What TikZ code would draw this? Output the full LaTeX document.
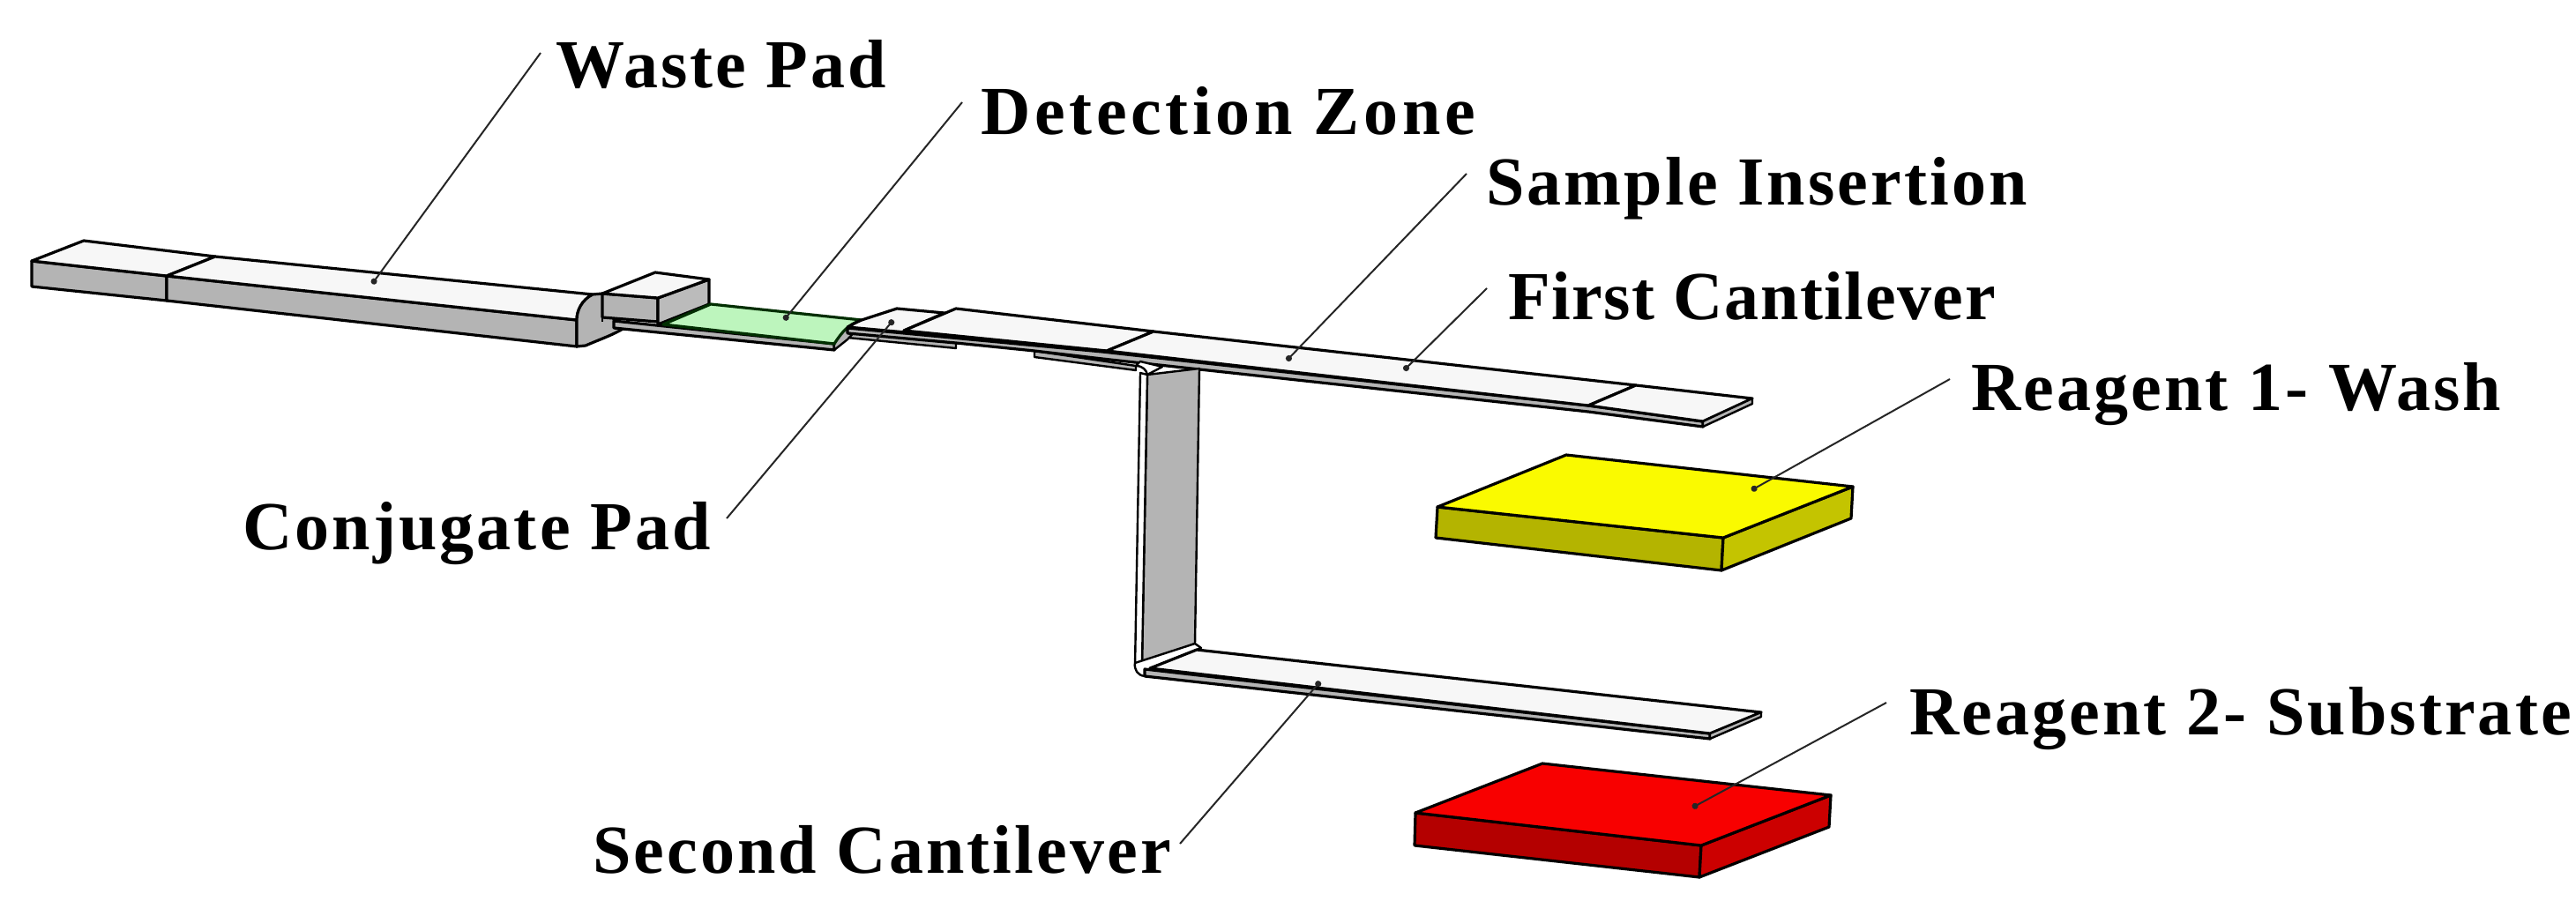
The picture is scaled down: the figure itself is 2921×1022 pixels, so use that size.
\documentclass[tikz,border=0pt]{standalone}
\usepackage{fontspec}
\setmainfont{Liberation Serif}
\usetikzlibrary{arrows.meta}
\definecolor{topw}{HTML}{F7F7F7}
\definecolor{sideg}{HTML}{B4B4B4}
\definecolor{greenp}{HTML}{BDF5BD}
\definecolor{yel}{HTML}{FAFA00}
\definecolor{yeld}{HTML}{B4B400}
\definecolor{yels}{HTML}{C4C400}
\definecolor{redt}{HTML}{F80000}
\definecolor{redd}{HTML}{B40000}
\definecolor{reds}{HTML}{CC0000}
\newfontfamily\labfont[LetterSpace=4]{Liberation Serif}
\newfontfamily\labwide[LetterSpace=6]{Liberation Serif}
\newfontfamily\labtight[LetterSpace=2]{Liberation Serif}
\tikzset{
 x=1pt,y=-1pt,
 solid3d/.style={draw=black,line width=3.2pt,line join=round},
 thin3d/.style={draw=black,line width=2.4pt,line join=round},
 leader/.style={draw=black!85,line width=2pt,-{Circle[length=7pt,width=7pt]}},
 lab/.style={anchor=base west,inner sep=0pt,font=\fontsize{78}{84}\selectfont\bfseries\labfont,text=black},
}
\begin{document}
\begin{tikzpicture}
\useasboundingbox (0,0) rectangle (2921,1022);
\fill[white] (0,0) rectangle (2921,1022);
% waste pad blocks
\path[solid3d,fill=sideg] (36,296) -- (189,313) -- (189,341) -- (36,325) -- cycle;
\path[solid3d,fill=sideg] (189,313) -- (654,363) -- (654,393) -- (189,341) -- cycle;
\path[solid3d,fill=topw] (95,273) -- (244,291) -- (189,313) -- (36,296) -- cycle;
\path[solid3d,fill=topw] (244,291) -- (672,334) .. controls (660,340) and (654,352) .. (654,363) -- (189,313) -- cycle;
\path[solid3d,fill=sideg] (672,334) .. controls (660,340) and (654,352) .. (654,363) -- (654,393) -- (664,392) .. controls (680,385) and (695,380) .. (708,372) -- (696,362) -- (683,333) -- cycle;
\draw[thin3d] (683,333) -- (683,365);
% middle block
\path[solid3d,fill=sideg] (683,333) -- (746,338) -- (746,365) -- (683,360) -- cycle;
\path[solid3d,fill=sideg!90] (746,338) -- (804,317) -- (804,345) -- (746,368) -- cycle;
\path[solid3d,fill=topw] (743,309) -- (804,317) -- (746,338) -- (683,333) -- cycle;
% strip under green
\path[solid3d,fill=sideg] (696,364) -- (946,390) -- (946,397) -- (696,372) -- cycle;
% lower tabs
\path[thin3d,fill=sideg] (961,377) -- (1084,389) -- (1084,395) -- (961,383) -- cycle;
\path[thin3d,fill=sideg] (946,390) -- (956,375) -- (975,370) -- (961,385) -- (946,397) -- cycle;
% green pad
\path[solid3d,draw=black!70!green!60!black,fill=greenp] (806,345) -- (977,363) .. controls (962,368) and (955,376) .. (946,390) -- (752,368) -- cycle;
% conjugate
\path[solid3d,fill=topw] (1017,350) -- (1071,355) -- (1025,375) -- (1060,380) -- (961,371) .. controls (965,369) and (970,366) .. (977,363) -- cycle;
% long top strip
\path[thin3d,fill=sideg] (1173,398) -- (1288,415) -- (1288,420) -- (1173,405) -- cycle;
\path[solid3d,fill=sideg] (961,372) -- (1250,399) -- (1801,460) -- (1931,478) -- (1931,484) -- (1801,467) -- (1250,407) -- (1173,398) -- (1084,389) -- (961,378) -- cycle;
\path[solid3d,fill=topw] (1084,350) -- (1308,376) -- (1255,398) -- (1025,375) -- cycle;
\path[solid3d,fill=topw] (1308,376) -- (1855,437) -- (1801,460) -- (1255,398) -- cycle;
\path[solid3d,fill=topw] (1855,437) -- (1987,452) -- (1931,478) -- (1801,460) -- cycle;
\path[thin3d,fill=sideg] (1931,478) -- (1987,452) -- (1987,458) -- (1931,484) -- cycle;
% vertical arm
\path[thin3d,fill=sideg] (1301,425) -- (1360,418) -- (1355,730) -- (1295,752) -- cycle;
\path[thin3d,fill=white] (1293,423) -- (1301,425) -- (1295,752) -- (1287,756) -- cycle;
\path[thin3d,fill=white] (1288,415) .. controls (1296,415) and (1300,420) .. (1301,425) -- (1318,416) -- (1293,410) -- cycle;
% second cantilever
\path[thin3d,fill=white] (1287,752) .. controls (1286,760) and (1290,766) .. (1298,767) -- (1304,758) -- (1362,735) -- (1355,730) -- cycle;
\path[solid3d,fill=sideg] (1298,759) -- (1939,832) -- (1939,838) -- (1298,767) -- cycle;
\path[solid3d,fill=topw] (1357,737) -- (1997,808) -- (1939,832) -- (1304,758) -- cycle;
\path[thin3d,fill=sideg] (1939,832) -- (1997,808) -- (1997,813) -- (1939,838) -- cycle;
% yellow
\path[solid3d,fill=yeld] (1630,575) -- (1954,610) -- (1952,647) -- (1628,610) -- cycle;
\path[solid3d,fill=yels] (1954,610) -- (2101,552) -- (2099,588) -- (1952,647) -- cycle;
\path[solid3d,fill=yel] (1776,516) -- (2101,552) -- (1954,610) -- (1630,575) -- cycle;
% red
\path[solid3d,fill=redd] (1605,922) -- (1929,959) -- (1927,995) -- (1604,959) -- cycle;
\path[solid3d,fill=reds] (1929,959) -- (2076,902) -- (2074,938) -- (1927,995) -- cycle;
\path[solid3d,fill=redt] (1749,866) -- (2076,902) -- (1929,959) -- (1605,922) -- cycle;
% labels
\node[lab] (waste) at (630,100) {Waste Pad};
\node[lab] (detect) at (1112,153) {\labwide Detection Zone};
\node[lab] (sample) at (1685,232) {Sample Insertion};
\node[lab] (first) at (1710,362) {\labtight First Cantilever};
\node[lab] (conj) at (275,623) {Conjugate Pad};
\node[lab] (r1) at (2235,465) {Reagent 1- Wash};
\node[lab] (r2) at (2165,833) {Reagent 2- Substrate};
\node[lab] (second) at (672,990) {Second Cantilever};
% leader ends
\coordinate (wa) at (613,60); \coordinate (wb) at (422,322);
\coordinate (da) at (1091,116); \coordinate (db) at (889,363);
\coordinate (sa) at (1663,197); \coordinate (sb) at (1459,409);
\coordinate (fa) at (1686,327); \coordinate (fb) at (1592,420);
\coordinate (ca) at (824,588); \coordinate (cb) at (1013,363);
\coordinate (ra) at (2211,430); \coordinate (rb) at (1986,556);
\coordinate (qa) at (2139,797); \coordinate (qb) at (1919,916);
\coordinate (ea) at (1338,957); \coordinate (eb) at (1497,773);
\foreach \p/\q in {wa/wb,da/db,sa/sb,fa/fb,ca/cb,ra/rb,qa/qb,ea/eb}
  \draw[leader] (\p) -- (\q);
\end{tikzpicture}
\end{document}
